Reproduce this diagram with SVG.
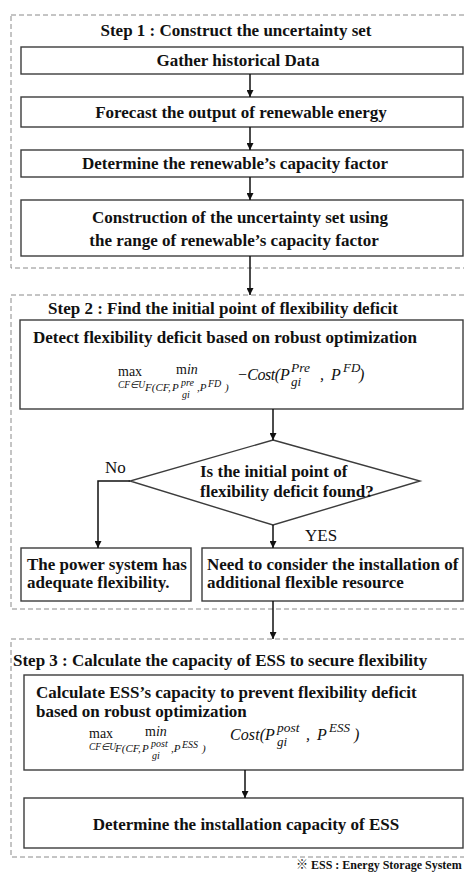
<svg xmlns="http://www.w3.org/2000/svg" width="464" height="875" viewBox="0 0 464 875">
<defs>
<marker id="ah" viewBox="0 0 10 10" refX="10" refY="5" markerWidth="7" markerHeight="7" markerUnits="userSpaceOnUse" orient="auto">
<path d="M0,0 L10,5 L0,10 Z" fill="#111"/>
</marker>
<style>
.stage{fill:none;stroke:#8a8a8a;stroke-width:1;stroke-dasharray:5 3}
.box{fill:#fff;stroke:#3c3c3c;stroke-width:1.4}
.t{font-family:"Liberation Serif","Times New Roman",serif;font-weight:bold;font-size:17px;fill:#111}
.c{text-anchor:middle}
.r{font-family:"Liberation Serif","Times New Roman",serif;font-size:17px;fill:#111}
.m{font-family:"Liberation Serif","Times New Roman",serif;fill:#111}
.i{font-style:italic}
.edge{fill:none;stroke:#111;stroke-width:1.5}
.note{font-family:"Liberation Serif","Times New Roman",serif;font-weight:bold;font-size:12px;fill:#111}
</style>
</defs>

<g id="stage1">
<rect class="stage" x="11" y="15" width="470" height="253"/>
<text class="t c" x="236" y="36">Step 1 : Construct the uncertainty set</text>
</g>
<g id="gather">
<rect class="box" x="21" y="47" width="442" height="27"/>
<text class="t c" x="238" y="66">Gather historical Data</text>
</g>
<g id="forecast">
<rect class="box" x="21" y="97" width="442" height="30"/>
<text class="t c" x="241" y="118">Forecast the output of renewable energy</text>
</g>
<g id="capfactor">
<rect class="box" x="21" y="150" width="442" height="27"/>
<text class="t c" x="235" y="169">Determine the renewable’s capacity factor</text>
</g>
<g id="construct">
<rect class="box" x="21" y="200" width="442" height="56"/>
<text class="t c" x="240" y="223">Construction of the uncertainty set using</text>
<text class="t c" x="234" y="246">the range of renewable’s capacity factor</text>
</g>

<g id="stage2">
<rect class="stage" x="11" y="295" width="470" height="314"/>
<text class="t c" x="223" y="314">Step 2 : Find the initial point of flexibility deficit</text>
</g>
<g id="detect">
<rect class="box" x="20" y="320" width="443" height="89"/>
<text class="t" x="33" y="343">Detect flexibility deficit based on robust optimization</text>
<text class="m" x="118" y="376" font-size="14">max</text>
<text class="m i" x="118" y="388" font-size="9.5">CF∈U</text>
<text class="m" x="176" y="374" font-size="14">m<tspan font-style="italic">in</tspan></text>
<text class="m i" x="145" y="391" font-size="11">F(CF,</text>
<text class="m i" x="172" y="391" font-size="11">P</text>
<text class="m i" x="181" y="386" font-size="10">pre</text>
<text class="m i" x="182" y="398" font-size="10">gi</text>
<text class="m i" x="197" y="391" font-size="11">,P</text>
<text class="m i" x="208" y="387" font-size="10">FD</text>
<text class="m i" x="225" y="391" font-size="11">)</text>
<text class="m i" x="237" y="380" font-size="16" textLength="43" lengthAdjust="spacing">−Cost(</text>
<text class="m i" x="280" y="380" font-size="16">P</text>
<text class="m i" x="291" y="372" font-size="13.5">Pre</text>
<text class="m i" x="291" y="386" font-size="13">gi</text>
<text class="m i" x="320" y="380" font-size="16">,</text>
<text class="m i" x="331" y="380" font-size="16">P</text>
<text class="m i" x="343" y="372" font-size="13">FD</text>
<text class="m i" x="359" y="380" font-size="16">)</text>
</g>
<g id="decision">
<polygon class="box" points="273,440 420,481 273,525 130,481"/>
<text class="t" x="200" y="477">Is the initial point of</text>
<text class="t" x="200" y="497">flexibility deficit found?</text>
</g>
<g id="adequate">
<rect class="box" x="21" y="548" width="170" height="53"/>
<text class="t" x="27" y="570">The power system has</text>
<text class="t" x="27" y="588">adequate flexibility.</text>
</g>
<g id="need">
<rect class="box" x="202" y="548" width="261" height="53"/>
<text class="t" x="207" y="570">Need to consider the installation of</text>
<text class="t" x="207" y="588">additional flexible resource</text>
</g>

<g id="stage3">
<rect class="stage" x="11" y="639" width="470" height="218"/>
<text class="t" x="13" y="666">Step 3 : Calculate the capacity of ESS to secure flexibility</text>
</g>
<g id="calc">
<rect class="box" x="24" y="675" width="439" height="95"/>
<text class="t" x="36" y="698">Calculate ESS’s capacity to prevent flexibility deficit</text>
<text class="t" x="36" y="717">based on robust optimization</text>
<text class="m" x="89" y="738" font-size="14">max</text>
<text class="m i" x="89" y="750" font-size="9.5">CF∈U</text>
<text class="m" x="145" y="736" font-size="14">m<tspan font-style="italic">in</tspan></text>
<text class="m i" x="115" y="752" font-size="11">F(CF,</text>
<text class="m i" x="142" y="752" font-size="11">P</text>
<text class="m i" x="151" y="747" font-size="10">post</text>
<text class="m i" x="152" y="759" font-size="10">gi</text>
<text class="m i" x="171" y="752" font-size="11">,P</text>
<text class="m i" x="182" y="748" font-size="10">ESS</text>
<text class="m i" x="202" y="752" font-size="11">)</text>
<text class="m i" x="230" y="740" font-size="16" textLength="35" lengthAdjust="spacing">Cost(</text>
<text class="m i" x="265" y="740" font-size="16">P</text>
<text class="m i" x="277" y="732" font-size="13.5">post</text>
<text class="m i" x="277" y="746" font-size="13">gi</text>
<text class="m i" x="306" y="740" font-size="16">,</text>
<text class="m i" x="317" y="740" font-size="16">P</text>
<text class="m i" x="329" y="732" font-size="13">ESS</text>
<text class="m i" x="354" y="740" font-size="16">)</text>
</g>
<g id="install">
<rect class="box" x="24" y="798" width="439" height="50"/>
<text class="t c" x="246" y="830">Determine the installation capacity of ESS</text>
</g>
<g id="note">
<text class="note" x="296" y="869"><tspan font-family="'Noto Sans CJK JP', sans-serif" font-weight="normal">※</tspan> ESS : Energy Storage System</text>
</g>

<g id="connectors">
<line class="edge" x1="250" y1="74" x2="250" y2="97" marker-end="url(#ah)"/>
<line class="edge" x1="250" y1="127" x2="250" y2="150" marker-end="url(#ah)"/>
<line class="edge" x1="250" y1="177" x2="250" y2="200" marker-end="url(#ah)"/>
<line class="edge" x1="250" y1="256" x2="250" y2="295" marker-end="url(#ah)"/>
<line class="edge" x1="273" y1="409" x2="273" y2="440" marker-end="url(#ah)"/>
<polyline class="edge" points="130,481 98,481 98,548" marker-end="url(#ah)"/>
<line class="edge" x1="273" y1="525" x2="273" y2="548" marker-end="url(#ah)"/>
<line class="edge" x1="273" y1="601" x2="273" y2="639" marker-end="url(#ah)"/>
<line class="edge" x1="245" y1="770" x2="245" y2="798" marker-end="url(#ah)"/>
<text class="r" x="105" y="473">No</text>
<text class="r" x="305" y="541">YES</text>
</g>
</svg>
